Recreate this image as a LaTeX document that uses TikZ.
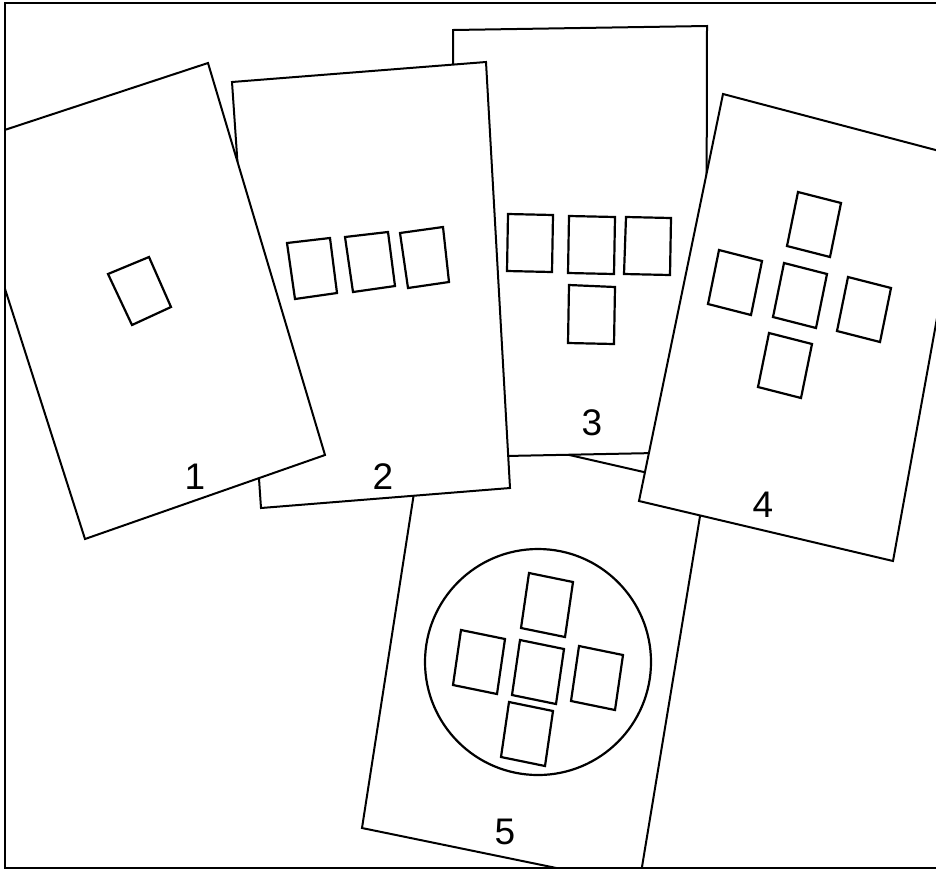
\documentclass[tikz,border=0pt]{standalone}
\usepackage{fontspec}
\setmainfont{Liberation Sans}
\begin{document}
\begin{tikzpicture}[x=1pt,y=-1pt,
  card/.style={draw=black,fill=white,line width=2pt},
  sq/.style={draw=black,line width=2.2pt},
  lbl/.style={inner sep=0pt,font=\fontsize{37}{40}\selectfont}]
\useasboundingbox (0,0) rectangle (936,871);
\fill[white] (0,0) rectangle (936,871);
\begin{scope}
\clip (5,3) rectangle (945,868);
% card 5 (bottom)
\path[card] (425,422) -- (705,486) -- (639,885) -- (362,828) -- cycle;
\draw[sq] (538,662) circle (113);
\draw[sq] (529,573) -- ++(44,9) -- ++(-8,55) -- ++(-44,-9) -- cycle;
\draw[sq] (520,640) -- ++(44,9) -- ++(-8,55) -- ++(-44,-9) -- cycle;
\draw[sq] (461,630) -- ++(44,9) -- ++(-8,55) -- ++(-44,-9) -- cycle;
\draw[sq] (579,646) -- ++(44,9) -- ++(-8,55) -- ++(-44,-9) -- cycle;
\draw[sq] (509,702) -- ++(44,9) -- ++(-8,55) -- ++(-44,-9) -- cycle;
\node[lbl] (l5) at (505,832) {5};
% card 3
\path[card] (453,30) -- (707,26) -- (706,452) -- (455,457) -- cycle;
\draw[sq] (508,214) -- (553,215) -- (552,272) -- (507,271) -- cycle;
\draw[sq] (569,216) -- (615,217) -- (614,274) -- (568,273) -- cycle;
\draw[sq] (626,217) -- (671,218) -- (670,275) -- (624,274) -- cycle;
\draw[sq] (569,285) -- (615,287) -- (614,344) -- (568,343) -- cycle;
\node[lbl] (l3) at (592,423) {3};
% card 2
\path[card] (232,82) -- (486,62) -- (510,488) -- (261,508) -- cycle;
\draw[sq] (287,243) -- (330,238) -- (337,293) -- (295,299) -- cycle;
\draw[sq] (345,237) -- (388,232) -- (395,286) -- (353,292) -- cycle;
\draw[sq] (400,233) -- (443,227) -- (449,282) -- (408,288) -- cycle;
\node[lbl] (l2) at (383,477) {2};
% card 4
\path[card] (723,94) -- (966,158) -- (893,561) -- (639,501) -- cycle;
\draw[sq] (798,192) -- ++(43,11) -- ++(-11,54) -- ++(-43,-11) -- cycle;
\draw[sq] (784,263) -- ++(43,11) -- ++(-11,54) -- ++(-43,-11) -- cycle;
\draw[sq] (719,250) -- ++(43,11) -- ++(-11,54) -- ++(-43,-11) -- cycle;
\draw[sq] (848,277) -- ++(43,11) -- ++(-11,54) -- ++(-43,-11) -- cycle;
\draw[sq] (769,333) -- ++(43,11) -- ++(-11,54) -- ++(-43,-11) -- cycle;
\node[lbl] (l4) at (763,505) {4};
% card 1 (top)
\path[card] (-41,145) -- (208,63) -- (325,455) -- (85,539) -- cycle;
\draw[sq] (108,274) -- (149,257) -- (171,307) -- (132,325) -- cycle;
\node[lbl] (l1) at (195,477) {1};
\end{scope}
\draw[line width=2.5pt] (5,3) rectangle (945,868);
\end{tikzpicture}
\end{document}
